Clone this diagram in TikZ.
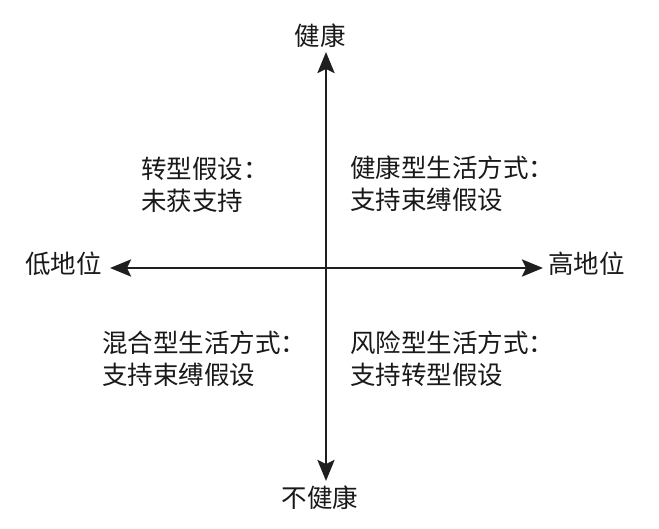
\documentclass[tikz,border=0pt]{standalone}
\usepackage{fontspec}
\newfontfamily\cjk{Noto Sans CJK SC}
\usetikzlibrary{arrows.meta}
\begin{document}
\begin{tikzpicture}[x=1pt,y=-1pt,
  lbl/.style={font=\cjk\fontsize{25.5}{32}\selectfont, inner sep=0pt, text=black!90},
  quad/.style={lbl, align=left, anchor=west},
  axis/.style={line width=2.8pt, draw=black!88, -{Stealth[length=21pt,width=17pt,inset=4pt]}}]
\useasboundingbox (0,0) rectangle (659,528);
\coordinate (o) at (326,268);
\coordinate (tn) at (326,52);
\coordinate (ts) at (326,481);
\coordinate (tw) at (110,268);
\coordinate (te) at (543,268);
\node[lbl] (nH) at (320,36) {健康};
\node[lbl] (nU) at (320,498) {不健康};
\node[lbl, anchor=east] (nL) at (102,264) {低地位};
\node[lbl, anchor=west] (nR) at (548,264) {高地位};
\draw[axis] (o) -- (tn);
\draw[axis] (o) -- (ts);
\draw[axis] (o) -- (tw);
\draw[axis] (o) -- (te);
\node[quad] (q1) at (141,185) {转型假设：\\未获支持};
\node[quad] (q2) at (350,184) {健康型生活方式：\\支持束缚假设};
\node[quad] (q3) at (102,359) {混合型生活方式：\\支持束缚假设};
\node[quad] (q4) at (350,359) {风险型生活方式：\\支持转型假设};
\end{tikzpicture}
\end{document}
